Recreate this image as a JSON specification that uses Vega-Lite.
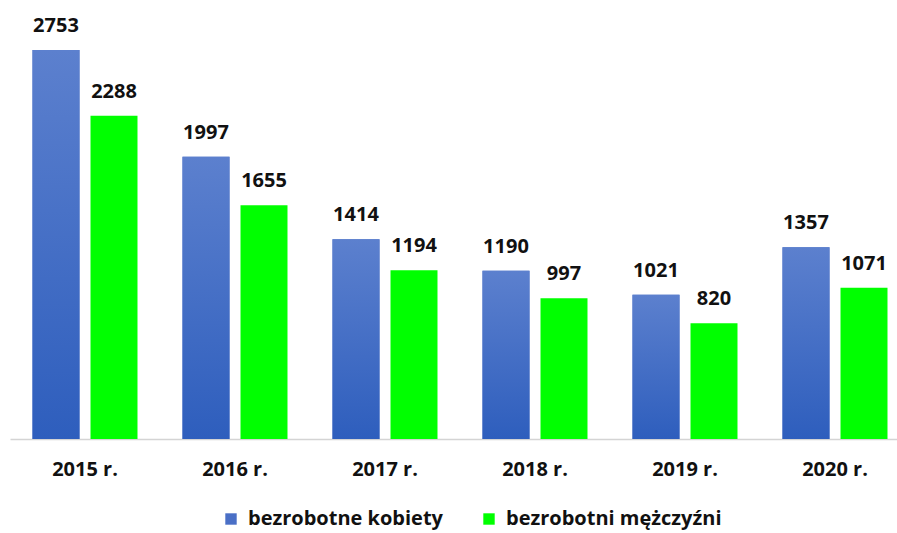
{
  "$schema": "https://vega.github.io/schema/vega-lite/v6.json",
  "autosize": "none",
  "width": 900,
  "height": 439,
  "padding": {"left": 10, "top": 0, "right": 0, "bottom": 94},
  "background": "white",
  "config": {"view": {"stroke": null}, "font": "Open Sans"},
  "data": {
    "values": [
      {"rok": "2015 r.", "grupa": "bezrobotne kobiety", "wartosc": 2753},
      {"rok": "2015 r.", "grupa": "bezrobotni mężczyźni", "wartosc": 2288},
      {"rok": "2016 r.", "grupa": "bezrobotne kobiety", "wartosc": 1997},
      {"rok": "2016 r.", "grupa": "bezrobotni mężczyźni", "wartosc": 1655},
      {"rok": "2017 r.", "grupa": "bezrobotne kobiety", "wartosc": 1414},
      {"rok": "2017 r.", "grupa": "bezrobotni mężczyźni", "wartosc": 1194},
      {"rok": "2018 r.", "grupa": "bezrobotne kobiety", "wartosc": 1190},
      {"rok": "2018 r.", "grupa": "bezrobotni mężczyźni", "wartosc": 997},
      {"rok": "2019 r.", "grupa": "bezrobotne kobiety", "wartosc": 1021},
      {"rok": "2019 r.", "grupa": "bezrobotni mężczyźni", "wartosc": 820},
      {"rok": "2020 r.", "grupa": "bezrobotne kobiety", "wartosc": 1357},
      {"rok": "2020 r.", "grupa": "bezrobotni mężczyźni", "wartosc": 1071}
    ]
  },
  "encoding": {
    "x": {
      "field": "rok", "type": "nominal", "title": null,
      "scale": {"paddingInner": 0, "paddingOuter": 0},
      "axis": {
        "labelAngle": 0, "labelFontSize": 20, "labelFontWeight": "bold", "labelColor": "#111111",
        "labelPadding": 20, "ticks": false, "domainColor": "#d4d4d4", "domainWidth": 1.5, "grid": false
      }
    },
    "xOffset": {
      "field": "grupa", "type": "nominal",
      "scale": {"paddingInner": 0.19, "paddingOuter": 0.388}
    },
    "y": {
      "field": "wartosc", "type": "quantitative",
      "scale": {"domain": [0, 3107], "nice": false},
      "axis": null
    }
  },
  "layer": [
    {
      "mark": {"type": "bar"},
      "encoding": {
        "color": {
          "field": "grupa", "type": "nominal", "title": null,
          "scale": {"domain": ["bezrobotne kobiety", "bezrobotni mężczyźni"], "range": ["#4a6fc6", "#00ff00"]},
          "legend": {
            "orient": "none", "direction": "horizontal", "legendX": 211, "legendY": 509,
            "symbolType": "square", "symbolSize": 130, "symbolStrokeWidth": 0,
            "labelFontSize": 20, "labelFontWeight": "bold", "labelColor": "#111111", "labelLimit": 0,
            "columnPadding": 36, "labelOffset": 7
          }
        }
      }
    },
    {
      "transform": [{"filter": "datum.grupa === 'bezrobotne kobiety'"}],
      "mark": {
        "type": "bar",
        "color": {
          "gradient": "linear", "x1": 0, "y1": 0, "x2": 0, "y2": 1,
          "stops": [{"offset": 0, "color": "#5c80ce"}, {"offset": 1, "color": "#2e5ebd"}]
        }
      }
    },
    {
      "mark": {"type": "text", "baseline": "alphabetic", "dy": -18, "fontSize": 20, "fontWeight": "bold", "color": "#111111"},
      "encoding": {"text": {"field": "wartosc", "type": "quantitative"}}
    }
  ]
}
